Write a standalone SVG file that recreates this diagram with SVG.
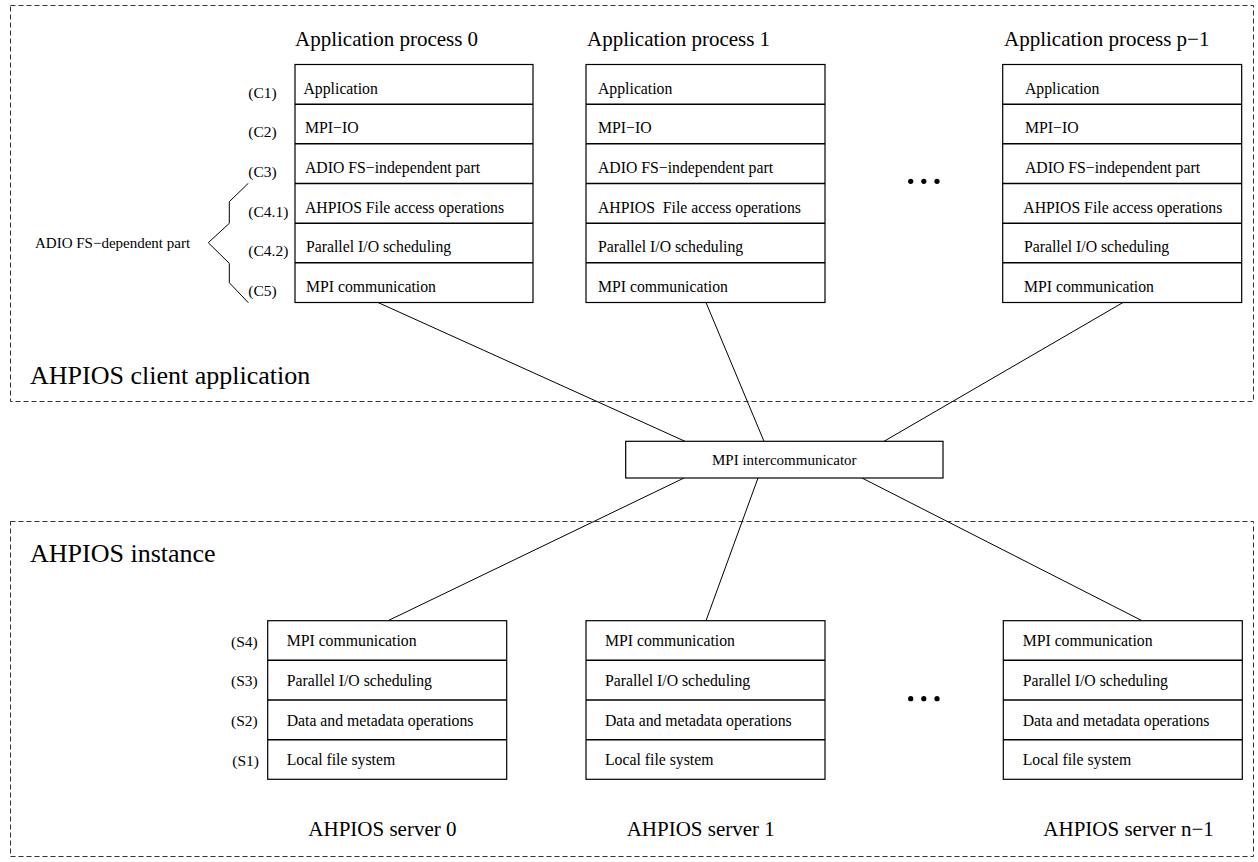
<svg xmlns="http://www.w3.org/2000/svg" width="1258" height="862" viewBox="0 0 1258 862">
<style>
text{font-family:"Liberation Serif","Times New Roman",serif;fill:#000}
.row{font-size:15.75px}
.lbl{font-size:15.5px}
.title{font-size:21px}
.big{font-size:26px}
.box{fill:#fff;stroke:#000;stroke-width:1.2}
.sep{stroke:#000;stroke-width:1.4}
.frame{fill:none;stroke:#333;stroke-width:1;stroke-dasharray:5 3}
.conn{stroke:#000;stroke-width:1;fill:none}
</style>
<rect width="1258" height="862" fill="#fff"/>

<g id="client-frame">
<rect class="frame" x="10.5" y="5.5" width="1243" height="396"/>
<text class="big" x="30" y="384">AHPIOS client application</text>
</g>
<g id="instance-frame">
<rect class="frame" x="10.5" y="521.5" width="1243" height="335"/>
<text class="big" x="30" y="562">AHPIOS instance</text>
</g>

<g id="connectors">
<line class="conn" x1="378" y1="302.5" x2="685" y2="441.3"/>
<line class="conn" x1="706" y1="302.5" x2="764" y2="441.3"/>
<line class="conn" x1="1123" y1="302.5" x2="884" y2="441.3"/>
<line class="conn" x1="684" y1="478" x2="388" y2="620.7"/>
<line class="conn" x1="758" y1="478" x2="706" y2="620.7"/>
<line class="conn" x1="862" y1="478" x2="1142" y2="620.7"/>
</g>

<g id="legend-client">
<text class="lbl" x="248.3" y="97.5">(C1)</text>
<text class="lbl" x="248.3" y="137.2">(C2)</text>
<text class="lbl" x="248.3" y="176.8">(C3)</text>
<text class="lbl" x="248.3" y="216.5">(C4.1)</text>
<text class="lbl" x="248.3" y="256.2">(C4.2)</text>
<text class="lbl" x="248.3" y="295.8">(C5)</text>
<path class="conn" d="M248.3,183.3 L229.3,201.7 L229.3,223.3 L208.3,242.7 L229.3,263.3 L229.3,282.7 L248.3,302.7"/>
<text style="font-size:15px" x="35" y="247.5">ADIO FS−dependent part</text>
</g>

<g id="app-process-0">
<text class="title" x="295" y="46">Application process 0</text>
<rect class="box" x="295" y="64.5" width="238" height="238"/>
<line class="sep" x1="295" y1="104.2" x2="533" y2="104.2"/>
<line class="sep" x1="295" y1="143.8" x2="533" y2="143.8"/>
<line class="sep" x1="295" y1="183.5" x2="533" y2="183.5"/>
<line class="sep" x1="295" y1="223.2" x2="533" y2="223.2"/>
<line class="sep" x1="295" y1="262.8" x2="533" y2="262.8"/>
<text class="row" x="303.5" y="93.5">Application</text>
<text class="row" x="305" y="133.2">MPI−IO</text>
<text class="row" x="305" y="172.8">ADIO FS−independent part</text>
<text class="row" x="305" y="212.5">AHPIOS File access operations</text>
<text class="row" x="306" y="252.2">Parallel I/O scheduling</text>
<text class="row" x="306" y="291.8">MPI communication</text>
</g>

<g id="app-process-1">
<text class="title" x="587" y="46">Application process 1</text>
<rect class="box" x="586" y="64.5" width="239" height="238"/>
<line class="sep" x1="586" y1="104.2" x2="825" y2="104.2"/>
<line class="sep" x1="586" y1="143.8" x2="825" y2="143.8"/>
<line class="sep" x1="586" y1="183.5" x2="825" y2="183.5"/>
<line class="sep" x1="586" y1="223.2" x2="825" y2="223.2"/>
<line class="sep" x1="586" y1="262.8" x2="825" y2="262.8"/>
<text class="row" x="598" y="93.5">Application</text>
<text class="row" x="598" y="133.2">MPI−IO</text>
<text class="row" x="598" y="172.8">ADIO FS−independent part</text>
<text class="row" x="598" y="212.5" xml:space="preserve">AHPIOS  File access operations</text>
<text class="row" x="598" y="252.2">Parallel I/O scheduling</text>
<text class="row" x="598" y="291.8">MPI communication</text>
</g>

<g id="dots-client">
<circle cx="910.7" cy="181.3" r="2.6"/>
<circle cx="923.8" cy="181.3" r="2.6"/>
<circle cx="937" cy="181.3" r="2.6"/>
</g>

<g id="app-process-p-1">
<text class="title" x="1004" y="46">Application process p−1</text>
<rect class="box" x="1002.7" y="64.5" width="239" height="238"/>
<line class="sep" x1="1002.7" y1="104.2" x2="1241.7" y2="104.2"/>
<line class="sep" x1="1002.7" y1="143.8" x2="1241.7" y2="143.8"/>
<line class="sep" x1="1002.7" y1="183.5" x2="1241.7" y2="183.5"/>
<line class="sep" x1="1002.7" y1="223.2" x2="1241.7" y2="223.2"/>
<line class="sep" x1="1002.7" y1="262.8" x2="1241.7" y2="262.8"/>
<text class="row" x="1025" y="93.5">Application</text>
<text class="row" x="1025" y="133.2">MPI−IO</text>
<text class="row" x="1025" y="172.8">ADIO FS−independent part</text>
<text class="row" x="1023.3" y="212.5">AHPIOS File access operations</text>
<text class="row" x="1024" y="252.2">Parallel I/O scheduling</text>
<text class="row" x="1024" y="291.8">MPI communication</text>
</g>

<g id="mpi-intercommunicator">
<rect class="box" x="625.7" y="441.3" width="317.3" height="36.7"/>
<text class="row" style="font-size:15px" x="784.3" y="465" text-anchor="middle">MPI intercommunicator</text>
</g>

<g id="legend-server">
<text class="lbl" x="231" y="646.5">(S4)</text>
<text class="lbl" x="231" y="686.2">(S3)</text>
<text class="lbl" x="231" y="725.8">(S2)</text>
<text class="lbl" x="232.3" y="765.5">(S1)</text>
</g>

<g id="server-0">
<rect class="box" x="267.7" y="620.7" width="239" height="158.6"/>
<line class="sep" x1="267.7" y1="660.3" x2="506.7" y2="660.3"/>
<line class="sep" x1="267.7" y1="700" x2="506.7" y2="700"/>
<line class="sep" x1="267.7" y1="739.7" x2="506.7" y2="739.7"/>
<text class="row" x="286.7" y="646.2">MPI communication</text>
<text class="row" x="286.7" y="685.8">Parallel I/O scheduling</text>
<text class="row" x="286.7" y="725.5">Data and metadata operations</text>
<text class="row" x="286.7" y="765.2">Local file system</text>
<text class="title" x="308.3" y="836">AHPIOS server 0</text>
</g>

<g id="server-1">
<rect class="box" x="586" y="620.7" width="239" height="158.6"/>
<line class="sep" x1="586" y1="660.3" x2="825" y2="660.3"/>
<line class="sep" x1="586" y1="700" x2="825" y2="700"/>
<line class="sep" x1="586" y1="739.7" x2="825" y2="739.7"/>
<text class="row" x="605" y="646.2">MPI communication</text>
<text class="row" x="605" y="685.8">Parallel I/O scheduling</text>
<text class="row" x="605" y="725.5">Data and metadata operations</text>
<text class="row" x="605" y="765.2">Local file system</text>
<text class="title" x="626.7" y="836">AHPIOS server 1</text>
</g>

<g id="dots-server">
<circle cx="910.7" cy="698.7" r="2.6"/>
<circle cx="923.8" cy="698.7" r="2.6"/>
<circle cx="937" cy="698.7" r="2.6"/>
</g>

<g id="server-n-1">
<rect class="box" x="1003.3" y="620.7" width="239" height="158.6"/>
<line class="sep" x1="1003.3" y1="660.3" x2="1242.3" y2="660.3"/>
<line class="sep" x1="1003.3" y1="700" x2="1242.3" y2="700"/>
<line class="sep" x1="1003.3" y1="739.7" x2="1242.3" y2="739.7"/>
<text class="row" x="1022.7" y="646.2">MPI communication</text>
<text class="row" x="1022.7" y="685.8">Parallel I/O scheduling</text>
<text class="row" x="1022.7" y="725.5">Data and metadata operations</text>
<text class="row" x="1022.7" y="765.2">Local file system</text>
<text class="title" x="1043.3" y="836">AHPIOS server n−1</text>
</g>
</svg>
